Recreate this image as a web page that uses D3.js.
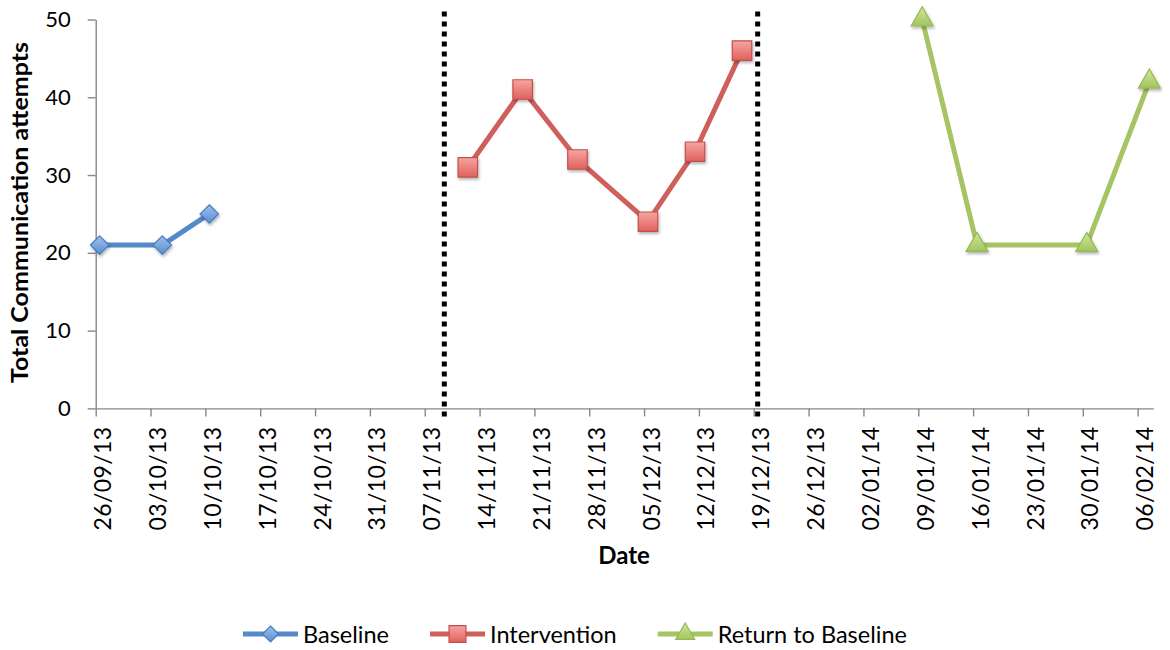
<!DOCTYPE html>
<html><head><meta charset="utf-8">
<script src="https://cdn.jsdelivr.net/npm/d3@7"></script>
<style>
body{margin:0;background:#fff}
text{font-family:Lato,"Open Sans",sans-serif;fill:#000}
</style>
</head><body>
<svg id="chart" width="1170" height="650"></svg>
<script>
const tickLabels = ["26/09/13","03/10/13","10/10/13","17/10/13","24/10/13","31/10/13","07/11/13","14/11/13","21/11/13","28/11/13","05/12/13","12/12/13","19/12/13","26/12/13","02/01/14","09/01/14","16/01/14","23/01/14","30/01/14","06/02/14"];
const axisStart = "26/09/13";
const axisEnd = "08/02/14";
const yTicks = [0,10,20,30,40,50];
const seriesNames = ["Baseline","Intervention","Return to Baseline"];
const baselineDates = ["26/09/13","04/10/13","10/10/13"];
const baselineValues = [21,21,25];
const interventionDates = ["12/11/13","19/11/13","26/11/13","05/12/13","11/12/13","17/12/13"];
const interventionValues = [31,41,32,24,33,46];
const returnDates = ["09/01/14","16/01/14","30/01/14","07/02/14"];
const returnValues = [50,21,21,42];
const phaseChangeDates = ["09/11/13","19/12/13"];
const yTitle = "Total Communication attempts";
const xTitle = "Date";

(function(){
const parse = d3.utcParse("%d/%m/%y");
const fmt = d3.utcFormat("%d/%m/%y");
const svg = d3.select("#chart");

const pLeft = 95.7, pRight = 1153.3, pTop = 19.5, pBottom = 408.4;
const x = d3.scaleUtc().domain([parse(axisStart), parse(axisEnd)]).range([pLeft, pRight]);
const y = d3.scaleLinear().domain([0, 50]).range([pBottom, pTop]);
// Excel date axis: points sit in the middle of their day
const px = s => x(d3.utcHour.offset(parse(s), 12));

const defs = svg.append("defs");
const shadow = defs.append("filter").attr("id","sh").attr("x","-50%").attr("y","-50%").attr("width","200%").attr("height","200%");
shadow.append("feDropShadow").attr("dx",1).attr("dy",2).attr("stdDeviation",1.4).attr("flood-color","#000").attr("flood-opacity",0.3);
function grad(id, c1, c2){
  const g = defs.append("linearGradient").attr("id",id).attr("x1",0).attr("y1",0).attr("x2",0).attr("y2",1);
  g.append("stop").attr("offset","0%").attr("stop-color",c1);
  g.append("stop").attr("offset","100%").attr("stop-color",c2);
}
grad("gBlue","#9cc0ee","#5b8fd4");
grad("gRed","#f7a5a2","#e0605c");
grad("gGreen","#cfe79a","#a3c45f");

const diamond = { draw(ctx, size){ const r = Math.sqrt(size/2); ctx.moveTo(0,-r); ctx.lineTo(r,0); ctx.lineTo(0,r); ctx.lineTo(-r,0); ctx.closePath(); } };

const series = [
  {name: seriesNames[0], dates: baselineDates, values: baselineValues, line:"#5589c7", stroke:"#4a7cbb", fill:"url(#gBlue)", sym: diamond, size: 170},
  {name: seriesNames[1], dates: interventionDates, values: interventionValues, line:"#cf5f5b", stroke:"#c0504d", fill:"url(#gRed)", sym: d3.symbolSquare, size: 380},
  {name: seriesNames[2], dates: returnDates, values: returnValues, line:"#a5c463", stroke:"#98b856", fill:"url(#gGreen)", sym: d3.symbolTriangle, size: 210}
];

// axes
const xAxis = d3.axisBottom(x)
  .tickValues(tickLabels.map(parse))
  .tickFormat(fmt).tickSize(8).tickSizeOuter(0);
const gx = svg.append("g").attr("transform",`translate(0,${pBottom})`).call(xAxis);
gx.select(".domain").attr("stroke","#878787").attr("stroke-width",1.4);
gx.selectAll(".tick line").attr("stroke","#878787").attr("stroke-width",1.4);
gx.selectAll(".tick text")
  .attr("font-size",23).attr("font-family","Lato")
  .attr("letter-spacing",0.4)
  .attr("text-anchor","end")
  .attr("transform","rotate(-90)")
  .attr("x",-18).attr("y",7).attr("dy","0.35em");

const yAxis = d3.axisLeft(y).tickValues(yTicks).tickSize(8).tickSizeOuter(0).tickPadding(17);
const gy = svg.append("g").attr("transform",`translate(${pLeft},0)`).call(yAxis);
gy.select(".domain").attr("stroke","#878787").attr("stroke-width",1.4);
gy.selectAll(".tick line").attr("stroke","#878787").attr("stroke-width",1.4);
gy.selectAll(".tick text").attr("font-size",22).attr("font-family","Lato");

// titles
svg.append("text").attr("transform",`translate(28,${(42+383)/2}) rotate(-90)`)
  .attr("text-anchor","middle").attr("font-weight","bold").attr("font-size",22)
  .attr("textLength",341).attr("lengthAdjust","spacingAndGlyphs").text(yTitle);
svg.append("text").attr("x",624).attr("y",564).attr("text-anchor","middle")
  .attr("font-weight","bold").attr("font-size",24).text(xTitle);

// phase change lines
svg.append("g").selectAll("line").data(phaseChangeDates).join("line")
  .attr("x1",d=>px(d)).attr("x2",d=>px(d))
  .attr("y1",y(50)-8).attr("y2",y(0)+13)
  .attr("stroke","#000").attr("stroke-width",5).attr("stroke-dasharray","5,5");

// series
const line = d3.line().x(d=>px(d.date)).y(d=>y(d.value));
series.forEach(s=>{
  const pts = s.dates.map((d,i)=>({date:d, value:s.values[i]}));
  svg.append("path").datum(pts).attr("d",line).attr("fill","none")
    .attr("stroke",s.line).attr("stroke-width",5).attr("stroke-linejoin","round");
  svg.append("g").selectAll("path").data(pts).join("path")
    .attr("d", d3.symbol().type(s.sym).size(s.size))
    .attr("transform", d=>`translate(${px(d.date)},${y(d.value)})`)
    .attr("fill", s.fill).attr("stroke", s.stroke).attr("stroke-width",1.2)
    .attr("filter","url(#sh)");
});

// legend
const lg = svg.append("g");
let lx = 243; const ly = 634;
series.forEach(s=>{
  lg.append("line").attr("x1",lx).attr("x2",lx+55).attr("y1",ly).attr("y2",ly)
    .attr("stroke",s.line).attr("stroke-width",5);
  lg.append("path").attr("d", d3.symbol().type(s.sym).size(s.size*0.75))
    .attr("transform",`translate(${lx+27.5},${ly})`)
    .attr("fill",s.fill).attr("stroke",s.stroke).attr("stroke-width",1.2);
  const t = lg.append("text").attr("x",lx+60).attr("y",ly+8.5).attr("font-size",23.5).text(s.name);
  lx += 60 + t.node().getComputedTextLength() + 41;
});
})();
</script>
</body></html>
